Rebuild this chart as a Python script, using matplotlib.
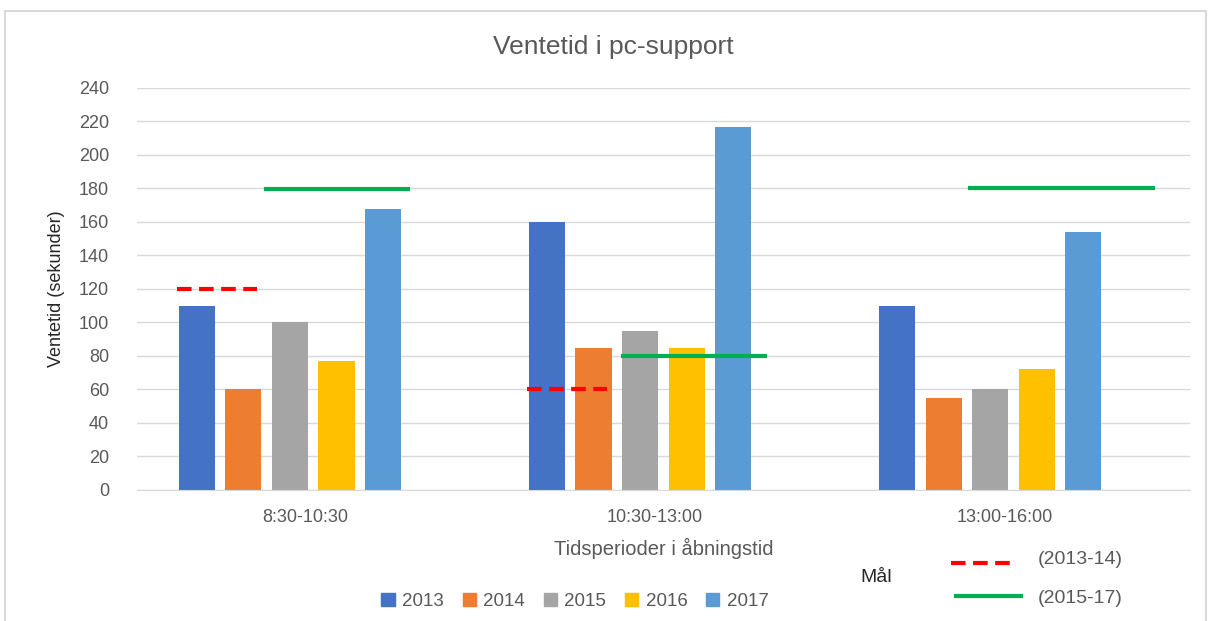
import matplotlib
matplotlib.use("Agg")
import matplotlib.pyplot as plt
from matplotlib.lines import Line2D
from matplotlib.patches import Rectangle, Patch
import numpy as np

plt.rcParams["font.family"] = ["Liberation Sans Narrow", "Liberation Sans", "DejaVu Sans"]

# Data
perioder = ["8:30-10:30", "10:30-13:00", "13:00-16:00"]
aar = ["2013", "2014", "2015", "2016", "2017"]
v2013 = [110, 160, 110]
v2014 = [60, 85, 55]
v2015 = [100, 95, 60]
v2016 = [77, 85, 72]
v2017 = [168, 217, 154]
maal_2013_14 = [120, 60, None]
maal_2015_17 = [179.5, 80, 180]

FARGER = ["#4472C4", "#ED7D31", "#A5A5A5", "#FFC000", "#5B9BD5"]
ROD = "#FF0000"
GRONN = "#00B050"
TEKST = "#595959"
GRID = "#D9D9D9"

fig = plt.figure(figsize=(12.08, 6.21), dpi=100)
fig.patches.append(Rectangle((0.004, -0.01), 0.994, 0.993, transform=fig.transFigure,
                             fill=False, edgecolor=GRID, linewidth=1.5))
ax = fig.add_axes([0.1134, 0.2110, 0.8717, 0.6473])

x = np.arange(len(perioder))
steg = 0.133
bredde = 0.103
serier = [v2013, v2014, v2015, v2016, v2017]
for i, (navn, verdier) in enumerate(zip(aar, serier)):
    ax.bar(x + (i - 2) * steg, verdier, width=bredde, color=FARGER[i], label=navn, zorder=2)

# Mållinjer (spenn relativt til kategorisenter)
rod_spenn = (-0.323, -0.094)
gronn_spenn = [(-0.069, 0.337), (-0.049, 0.357), (-0.057, 0.466)]
for i, m in enumerate(maal_2013_14):
    if m is not None:
        ax.plot([x[i] + rod_spenn[0], x[i] + rod_spenn[1]], [m, m], color=ROD,
                linewidth=3, linestyle=(0, (3.5, 1.8)), zorder=3, solid_capstyle="butt")
for i, m in enumerate(maal_2015_17):
    if m is not None:
        ax.plot([x[i] + gronn_spenn[i][0], x[i] + gronn_spenn[i][1]], [m, m], color=GRONN,
                linewidth=3, zorder=3)

ax.set_xlim(-0.437, 2.571)
ax.set_ylim(0, 240)
ax.set_yticks(range(0, 241, 20))
ax.set_xticks(x + 0.043)
ax.set_xticklabels(perioder)
ax.tick_params(axis="both", length=0, labelsize=13, labelcolor=TEKST)
ax.tick_params(axis="x", pad=14)
ax.tick_params(axis="y", pad=20)
ax.grid(axis="y", color=GRID, linewidth=1)
ax.set_axisbelow(True)
for side in ("top", "right", "left"):
    ax.spines[side].set_visible(False)
ax.spines["bottom"].set_color(GRID)

ax.set_ylabel("Ventetid (sekunder)", fontsize=13, color="#262626", labelpad=10)
ax.set_xlabel("Tidsperioder i åbningstid", fontsize=14.5, color=TEKST, labelpad=8)
fig.text(0.508, 0.925, "Ventetid i pc-support", ha="center", va="center",
         fontsize=19, color=TEKST)

handles = [Patch(color=c) for c in FARGER]
fig.legend(handles, aar, loc="center", bbox_to_anchor=(0.476, 0.032), ncol=5,
           frameon=False, fontsize=13.5, labelcolor=TEKST, handlelength=0.7,
           handleheight=0.7, columnspacing=1.0, handletextpad=0.4)

# Mål-forklaring
fig.text(0.712, 0.070, "Mål", fontsize=14, color="#262626", va="center")
fig.lines.append(Line2D([0.787, 0.840], [0.094, 0.094], transform=fig.transFigure,
                        color=ROD, linewidth=3, linestyle=(0, (3.5, 1.8))))
fig.lines.append(Line2D([0.791, 0.845], [0.040, 0.040], transform=fig.transFigure,
                        color=GRONN, linewidth=3))
fig.text(0.859, 0.099, "(2013-14)", fontsize=14, color=TEKST, va="center")
fig.text(0.859, 0.036, "(2015-17)", fontsize=14, color=TEKST, va="center")

fig.savefig("out.png", dpi=100, facecolor="white")
